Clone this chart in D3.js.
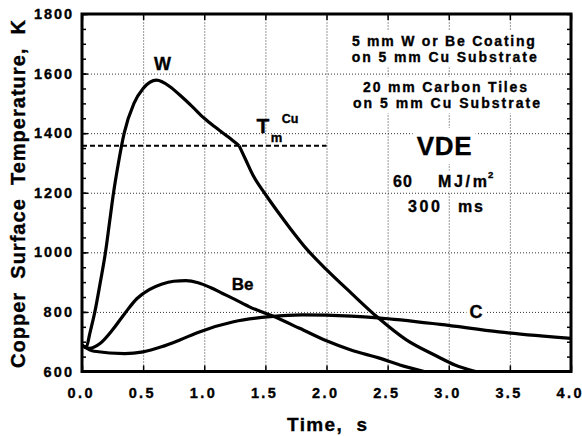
<!DOCTYPE html>
<html><head><meta charset="utf-8">
<script src="https://cdn.jsdelivr.net/npm/d3@7"></script>
<style>
html,body{margin:0;padding:0;background:#fff;}
svg{display:block;font-family:"Liberation Sans",Arial,Helvetica,sans-serif;font-weight:bold;}
text{white-space:pre;stroke:#000;stroke-width:0.35px;}
</style></head><body>
<svg id="chart" width="582" height="436"></svg>
<script>
// ---- data (time in s, temperature in K) ----
const wHeatT = [0, 0.035, 0.065, 0.105, 0.15, 0.192, 0.225, 0.258, 0.298, 0.345, 0.425, 0.50, 0.61, 0.72, 0.80, 0.90, 1.00, 1.10, 1.20, 1.285];
const wHeatV = [688, 682, 730, 800, 900, 1000, 1100, 1200, 1300, 1400, 1500, 1550, 1578, 1556, 1528, 1490, 1450, 1417, 1386, 1358];
const wCoolT = [1.285, 1.34, 1.40, 1.50, 1.60, 1.70, 1.84, 2.00, 2.20, 2.42, 2.65, 2.90, 3.05, 3.22];
const wCoolV = [1358, 1310, 1258, 1195, 1137, 1082, 1010, 942, 864, 781, 707, 652, 622, 600];
const beT = [0, 0.06, 0.15, 0.25, 0.35, 0.45, 0.55, 0.65, 0.75, 0.85, 0.95, 1.05, 1.15, 1.25, 1.37, 1.56, 1.78, 2.0, 2.2, 2.44, 2.6, 2.8];
const beV = [688, 678, 695, 740, 795, 845, 875, 893, 903, 905, 898, 882, 862, 842, 817, 786, 745, 703, 672, 644, 622, 600];
const cT = [0, 0.1, 0.35, 0.5, 0.65, 0.8, 0.96, 1.24, 1.54, 1.8, 2.0, 2.42, 2.93, 3.41, 4.0];
const cV = [688, 668, 660, 666, 683, 706, 733, 767, 784, 790, 789, 780, 758, 733, 711];
const tmCu = 1358;
const tmLineT = [0, 2.0];
const xTicks = [0, 0.5, 1.0, 1.5, 2.0, 2.5, 3.0, 3.5, 4.0];
const xGrid = [0.5, 1.0, 1.5, 2.0, 2.5, 3.0, 3.5];
const yTicks = [600, 800, 1000, 1200, 1400, 1600, 1800];
const yGrid = [800, 1000, 1200, 1400, 1600];
const yMinor = d3.range(600, 1801, 50);

// ---- layout ----
const m = {l: 82, r: 571, t: 14, b: 371.5};
const x = d3.scaleLinear().domain([0, 4]).range([m.l, m.r]);
const y = d3.scaleLinear().domain([600, 1800]).range([m.b, m.t]);
const svg = d3.select('#chart');

function clean(g) { g.select('.domain').remove(); g.attr('font-family', null).attr('font-size', null); }

// gridlines
svg.append('g').attr('transform', `translate(0,${m.b})`)
  .call(d3.axisBottom(x).tickValues(xGrid).tickSize(-(m.b - m.t)).tickFormat(''))
  .call(clean)
  .selectAll('line').attr('stroke', '#333').attr('stroke-width', 1).attr('stroke-dasharray', '1,2');
svg.append('g').attr('transform', `translate(${m.l},0)`)
  .call(d3.axisLeft(y).tickValues(yGrid).tickSize(-(m.r - m.l)).tickFormat(''))
  .call(clean)
  .selectAll('line').attr('stroke', '#333').attr('stroke-width', 1).attr('stroke-dasharray', '1,2');

// minor / major ticks
svg.append('g').attr('transform', `translate(${m.l},0)`)
  .call(d3.axisLeft(y).tickValues(yMinor).tickSize(-4).tickFormat(''))
  .call(clean).selectAll('line').attr('stroke', '#000').attr('stroke-width', 1.5);
svg.append('g').attr('transform', `translate(${m.r},0)`)
  .call(d3.axisRight(y).tickValues(yMinor).tickSize(-4).tickFormat(''))
  .call(clean).selectAll('line').attr('stroke', '#000').attr('stroke-width', 1.5);
svg.append('g').attr('transform', `translate(0,${m.t})`)
  .call(d3.axisTop(x).tickValues(xTicks).tickSize(-6).tickFormat(''))
  .call(clean).selectAll('line').attr('stroke', '#000').attr('stroke-width', 1.5);

// y labels
const yAx = svg.append('g').attr('transform', `translate(${m.l},0)`)
  .call(d3.axisLeft(y).tickValues(yTicks).tickSize(-6).tickPadding(10).tickFormat(d3.format('d')))
  .call(clean);
yAx.selectAll('line').attr('stroke', '#000').attr('stroke-width', 1.5);
yAx.selectAll('text').attr('font-size', 14.5).attr('fill', '#000')
  .attr('textLength', d => String(d).length * 9.5).attr('lengthAdjust', 'spacing');

// x labels
const xAx = svg.append('g').attr('transform', `translate(0,${m.b})`)
  .call(d3.axisBottom(x).tickValues(xTicks).tickSize(-6).tickPadding(16.5).tickFormat(d3.format('.1f')))
  .call(clean);
xAx.selectAll('line').attr('stroke', '#000').attr('stroke-width', 1.5);
xAx.selectAll('text').attr('font-size', 14.5).attr('fill', '#000').attr('dx', -2.5)
  .attr('textLength', 25).attr('lengthAdjust', 'spacing');

// clip
svg.append('clipPath').attr('id', 'plotclip').append('rect')
  .attr('x', m.l).attr('y', m.t).attr('width', m.r - m.l).attr('height', m.b - m.t);

// background boxes + texts helper
const annot = svg.append('g');
function label(txt, px, py, size, anchor, len, bg) {
  const t = annot.append('text').attr('x', px).attr('y', py).attr('font-size', size)
    .attr('text-anchor', anchor || 'start').attr('fill', '#000').text(txt);
  if (len) t.attr('textLength', len).attr('lengthAdjust', 'spacing');
  if (bg) {
    const b = t.node().getBBox();
    annot.insert('rect', 'text').attr('x', b.x - bg).attr('y', b.y - bg + 1)
      .attr('width', b.width + 2 * bg).attr('height', b.height + 2 * bg - 2).attr('fill', '#fff');
  }
  return t;
}

label('5 mm W or Be Coating', 443.4, 45.7, 14, 'middle', 183, 3);
label('on 5 mm Cu Substrate', 444.2, 62.3, 14, 'middle', 185, 3);
label('20 mm Carbon Tiles', 445, 91.7, 14, 'middle', 164, 3);
label('on 5 mm Cu Substrate', 446.5, 108.3, 14, 'middle', 187, 3);
label('VDE', 444.2, 155, 26, 'middle', 55, 4);
label('60', 393, 186.7, 16, 'start', 19, 3);
label('MJ/m', 438, 186.7, 16, 'start', 49, 3);
label('2', 488, 178, 9.5, 'start', null, 1);
label('300', 408, 211.7, 16, 'start', 32, 3);
label('ms', 458, 211.7, 16, 'start', 25, 3);

// series
const line = d3.line().x(d => x(d[0])).y(d => y(d[1])).curve(d3.curveMonotoneX);
const series = [
  d3.zip(wHeatT, wHeatV),
  d3.zip(wCoolT, wCoolV),
  d3.zip(beT, beV),
  d3.zip(cT, cV)
];
const curves = svg.append('g').attr('clip-path', 'url(#plotclip)');
curves.selectAll('path.s').data(series).join('path').attr('class', 's')
  .attr('d', line).attr('fill', 'none').attr('stroke', '#000')
  .attr('stroke-width', 3.2).attr('stroke-linejoin', 'round');
curves.append('path').datum(tmLineT.map(t => [t, tmCu]))
  .attr('d', d3.line().x(d => x(d[0])).y(d => y(d[1])))
  .attr('fill', 'none').attr('stroke', '#000').attr('stroke-width', 2).attr('stroke-dasharray', '5,3');

// curve labels
const lab = svg.append('g');
function clabel(txt, px, py, size, anchor, bg) {
  const t = lab.append('text').attr('x', px).attr('y', py).attr('font-size', size)
    .attr('text-anchor', anchor).attr('fill', '#000').text(txt);
  if (bg) {
    const b = t.node().getBBox();
    lab.insert('rect', 'text').attr('x', b.x - bg).attr('y', b.y).attr('width', b.width + 2 * bg)
      .attr('height', b.height).attr('fill', '#fff');
  }
}
clabel('W', 162.5, 70, 18, 'middle');
clabel('Be', 231.7, 290, 17, 'start');
clabel('C', 476, 318, 18, 'middle', 3);
clabel('T', 256.5, 133.3, 21, 'start');
clabel('m', 270.7, 141.7, 13, 'start');
clabel('Cu', 281.7, 123.3, 12.5, 'start');

// frame
svg.append('rect').attr('x', m.l).attr('y', m.t).attr('width', m.r - m.l).attr('height', m.b - m.t)
  .attr('fill', 'none').attr('stroke', '#000').attr('stroke-width', 3);

// axis titles
svg.append('text').attr('x', 327).attr('y', 431).attr('font-size', 19).attr('text-anchor', 'middle')
  .attr('textLength', 80).attr('lengthAdjust', 'spacing').text('Time,  s');
svg.append('text').attr('transform', 'translate(25,194) rotate(-90)').attr('font-size', 20)
  .attr('text-anchor', 'middle').attr('textLength', 348).attr('lengthAdjust', 'spacing')
  .text('Copper  Surface  Temperature,  K');
</script>
</body></html>
